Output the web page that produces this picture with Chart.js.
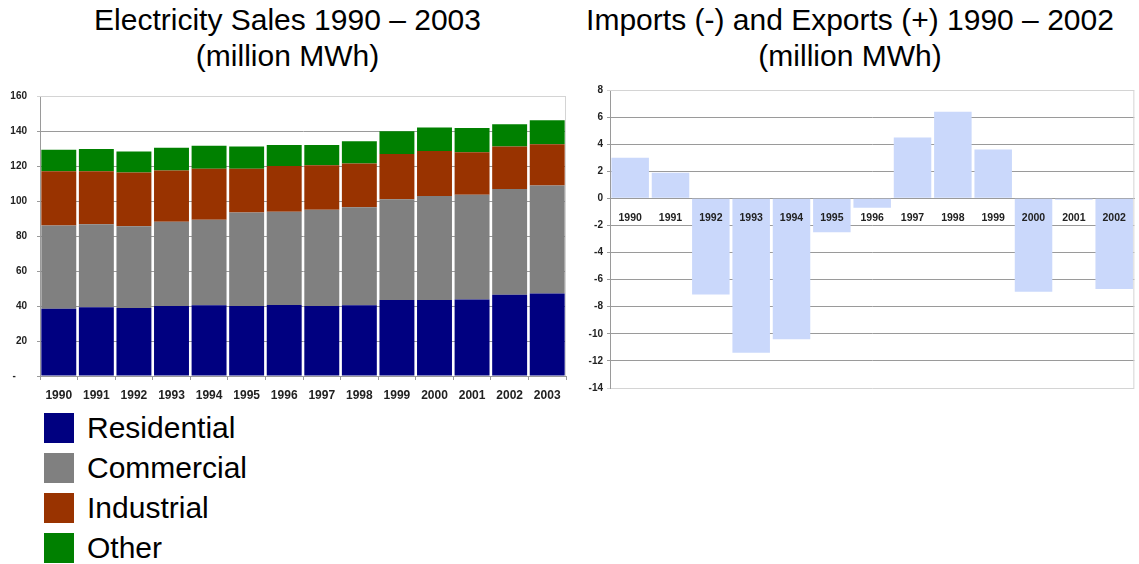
<!DOCTYPE html>
<html>
<head>
<meta charset="utf-8">
<title>Electricity Sales and Imports/Exports</title>
<script src="https://cdn.jsdelivr.net/npm/chart.js@4/dist/chart.umd.min.js"></script>
<style>
    body { margin: 0; background: #fff; font-family: "Liberation Sans", Arial, sans-serif; }
    #page { position: relative; width: 1139px; height: 564px; overflow: hidden; }
    .title { position: absolute; top: 2px; text-align: center; font-size: 30px; line-height: 36px; color: #000; white-space: nowrap; }
    canvas { position: absolute; }
    #legend { position: absolute; left: 44px; top: 408px; }
    .legend-row { height: 40px; display: flex; align-items: center; font-size: 30px; color: #000; }
    .legend-box { width: 30px; height: 30px; margin-right: 13px; }
</style>
</head>
<body>
<div id="page">
    <div class="title" style="left:0; width:575px;">Electricity Sales 1990 – 2003<br>(million MWh)</div>
    <div class="title" style="left:575px; width:550px;">Imports (-) and Exports (+) 1990 – 2002<br>(million MWh)</div>
    <canvas id="salesChart" width="575" height="325" style="left:0; top:80px;"></canvas>
    <canvas id="tradeChart" width="564" height="318" style="left:575px; top:80px;"></canvas>
    <div id="legend"></div>
</div>

<script>
// Sales data (million MWh)
const salesYears = ['1990', '1991', '1992', '1993', '1994', '1995', '1996', '1997', '1998', '1999', '2000', '2001', '2002', '2003'];
const residential = [38.5, 39.3, 38.9, 40.0, 40.4, 40.0, 40.6, 40.0, 40.4, 43.4, 43.4, 43.7, 46.4, 47.1];
const commercial  = [47.5, 47.4, 46.7, 48.2, 48.9, 53.4, 53.2, 55.0, 56.1, 57.6, 59.4, 59.9, 60.5, 61.7];
const industrial  = [31.0, 30.3, 30.7, 29.2, 29.2, 25.1, 26.2, 25.4, 25.0, 25.8, 25.8, 24.3, 24.3, 23.6];
const other       = [12.3, 12.7, 12.0, 13.1, 13.1, 12.7, 12.0, 11.6, 12.7, 13.0, 13.4, 13.8, 12.7, 13.8];
const salesNames  = ['Residential', 'Commercial', 'Industrial', 'Other'];
const salesColors = ['#000080', '#808080', '#993300', '#008000'];
const salesTicks  = { min: 0, max: 160, step: 20 };

// Imports (-) / exports (+) data (million MWh)
const tradeYears = ['1990', '1991', '1992', '1993', '1994', '1995', '1996', '1997', '1998', '1999', '2000', '2001', '2002'];
const tradeNet   = [3.0, 1.9, -7.1, -11.4, -10.4, -2.5, -0.7, 4.5, 6.4, 3.6, -6.9, -0.1, -6.7];
const tradeTicks = { min: -14, max: 8, step: 2 };

const tickColor = '#222';
const gridColor = '#9a9a9a';
const frameColor = '#d4d4d4';

// Light frame on the top and right edge of the plot area
const plotFrame = {
    id: 'plotFrame',
    beforeDatasetsDraw(chart) {
        const a = chart.chartArea;
        const ctx = chart.ctx;
        ctx.save();
        ctx.strokeStyle = frameColor;
        ctx.lineWidth = 1;
        ctx.beginPath();
        ctx.moveTo(a.left, a.top + 0.5);
        ctx.lineTo(a.right - 0.5, a.top + 0.5);
        ctx.lineTo(a.right - 0.5, a.bottom);
        ctx.stroke();
        ctx.restore();
    }
};

function gridLineColor(limits) {
    return function(c) {
        if (c.tick && (c.tick.value === limits.max || c.tick.value === limits.min)) return frameColor;
        return gridColor;
    };
}

function buildLegend() {
    const legend = document.getElementById('legend');
    salesNames.forEach((name, i) => {
        const row = document.createElement('div');
        row.className = 'legend-row';
        row.innerHTML = '<div class="legend-box" style="background:' + salesColors[i] + '"></div>' + name;
        legend.appendChild(row);
    });
}

function initializeSalesChart() {
    const series = [residential, commercial, industrial, other];
    new Chart(document.getElementById('salesChart'), {
        type: 'bar',
        data: {
            labels: salesYears,
            datasets: series.map((values, i) => ({
                label: salesNames[i],
                data: values,
                backgroundColor: salesColors[i],
                borderWidth: 0,
                barPercentage: 0.93,
                categoryPercentage: 1.0
            }))
        },
        options: {
            responsive: false,
            animation: false,
            layout: { padding: { top: 10, right: 9, bottom: 0, left: 0 } },
            plugins: { legend: { display: false }, tooltip: { enabled: false } },
            scales: {
                x: {
                    stacked: true,
                    afterFit: scale => { scale.height = 29; },
                    grid: { drawOnChartArea: false, tickLength: 4, color: gridColor },
                    border: { color: gridColor },
                    ticks: {
                        color: tickColor, padding: 8, maxRotation: 0, autoSkip: false,
                        font: { family: 'Liberation Sans', size: 12, weight: 'bold' }
                    }
                },
                y: {
                    stacked: true,
                    min: salesTicks.min,
                    max: salesTicks.max,
                    afterFit: scale => { scale.width = 40; },
                    grid: { color: gridLineColor({ min: -1, max: salesTicks.max }), tickLength: 3 },
                    border: { color: gridColor },
                    ticks: {
                        stepSize: salesTicks.step, color: tickColor, padding: 10,
                        font: { family: 'Liberation Sans', size: 10, weight: 'bold' },
                        callback: value => value === 0 ? '-    ' : value
                    }
                }
            }
        },
        plugins: [plotFrame]
    });
}

function initializeTradeChart() {
    new Chart(document.getElementById('tradeChart'), {
        type: 'bar',
        data: {
            labels: tradeYears,
            datasets: [{
                label: 'Net exports',
                data: tradeNet,
                backgroundColor: '#cad8fb',
                borderWidth: 0,
                barPercentage: 0.93,
                categoryPercentage: 1.0
            }]
        },
        options: {
            responsive: false,
            animation: false,
            layout: { padding: { top: 10, right: 3, bottom: 10, left: 0 } },
            plugins: { legend: { display: false }, tooltip: { enabled: false } },
            scales: {
                x: {
                    position: { y: 0 },
                    grid: { drawOnChartArea: false, drawTicks: false },
                    border: { color: gridColor },
                    ticks: {
                        z: 1, // year labels sit on top of the bars
                        color: tickColor, padding: 13, maxRotation: 0, autoSkip: false,
                        font: { family: 'Liberation Sans', size: 10.5, weight: 'bold' }
                    }
                },
                y: {
                    min: tradeTicks.min,
                    max: tradeTicks.max,
                    afterFit: scale => { scale.width = 35; },
                    grid: { color: gridLineColor(tradeTicks), tickLength: 3 },
                    border: { color: gridColor },
                    ticks: {
                        stepSize: tradeTicks.step, color: tickColor, padding: 4,
                        font: { family: 'Liberation Sans', size: 10, weight: 'bold' }
                    }
                }
            }
        },
        plugins: [plotFrame]
    });
}

document.addEventListener('DOMContentLoaded', function() {
    buildLegend();
    initializeSalesChart();
    initializeTradeChart();
});
</script>
</body>
</html>
